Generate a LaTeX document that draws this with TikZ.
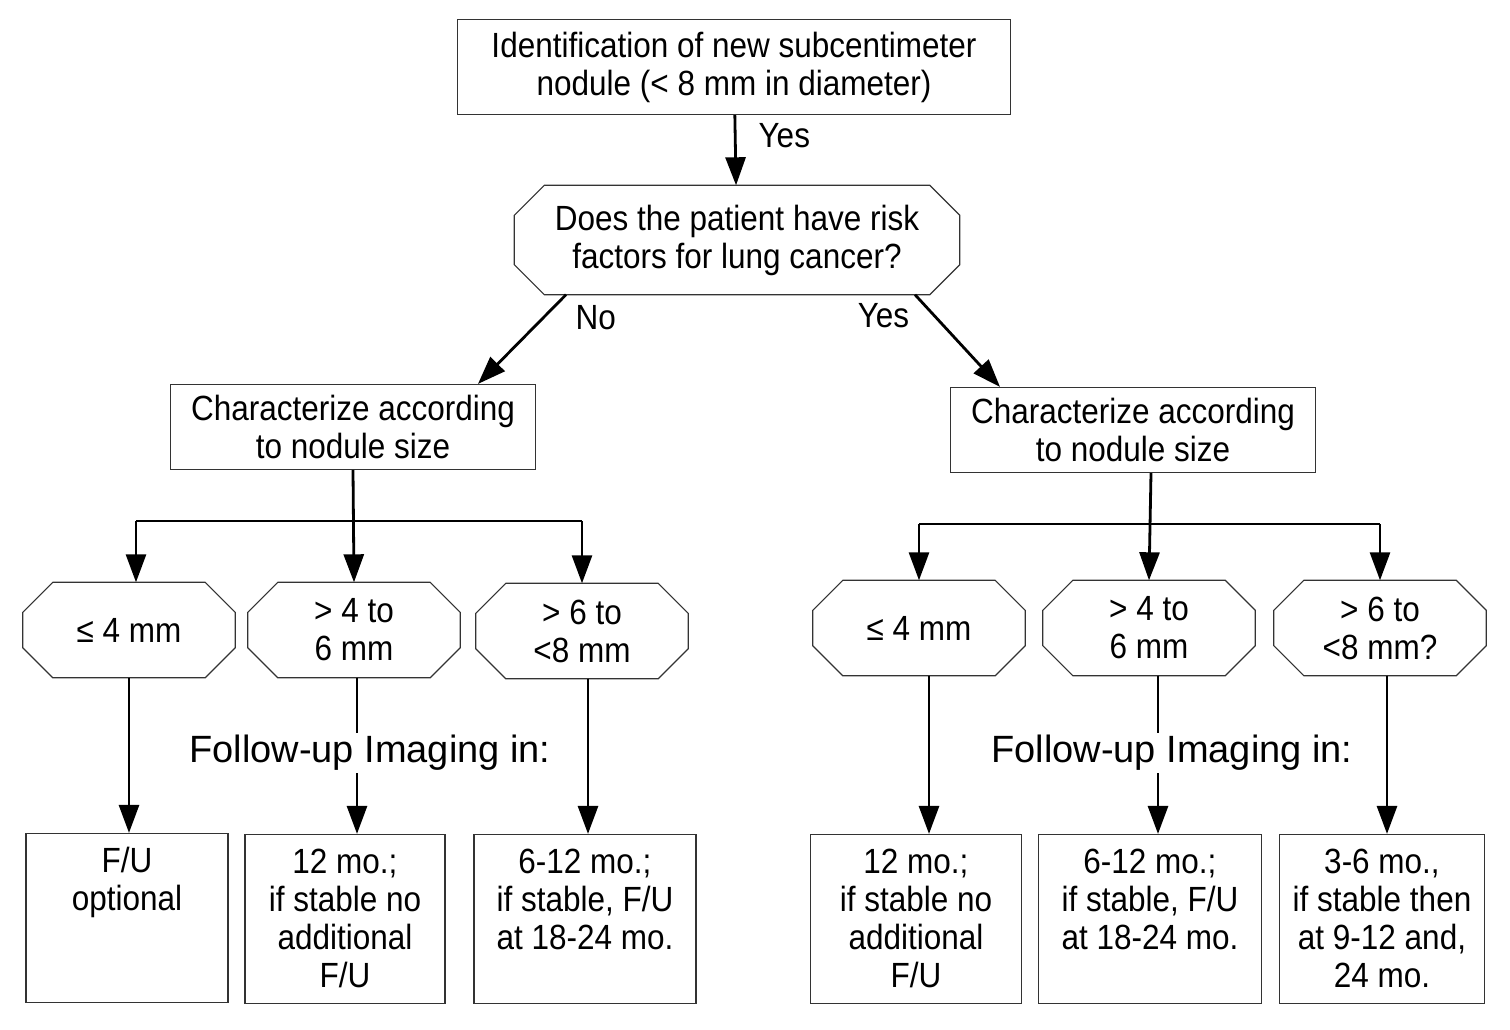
\documentclass[tikz,border=0pt]{standalone}
\usepackage{fontspec}
\setmainfont{Liberation Sans}
\newfontfamily\narrowfont[FakeStretch=0.9]{Liberation Sans}
\usetikzlibrary{arrows.meta, positioning}

\begin{document}
\begin{tikzpicture}[x=1pt,y=-1pt,>={Triangle[length=28pt,width=20pt]},
  border/.style={draw=black!80,line width=1.2pt},
  box/.style={rectangle,border,align=center,inner sep=6pt,
    font=\narrowfont\fontsize{35}{38}\selectfont},
  octa/.style={rectangle,align=center,inner sep=0pt,minimum width=212pt,minimum height=95pt,
    font=\narrowfont\fontsize{35}{38}\selectfont},
  fubox/.style={box,align=flush center,text width=#1,text height=33pt,text depth=124pt},
  link/.style={->,line width=2.8pt},
  bar/.style={line width=1.8pt},
  lbl/.style={inner sep=0pt,font=\narrowfont\fontsize{35}{38}\selectfont},
  note/.style={fill=white,inner sep=2pt,font=\fontsize{38}{40}\selectfont}]
  \useasboundingbox (0,0) rectangle (1510,1029);

  % question part
  \node[box,minimum width=553pt,minimum height=95pt] (start) at (734,67)
    {Identification of new subcentimeter\\nodule (< 8 mm in diameter)};
  \node[octa,minimum width=445pt,minimum height=109pt] (risk) at (737,240)
    {Does the patient have risk\\factors for lung cancer?};
  \node[box,minimum width=365pt,minimum height=85pt] (charL) at (353,427)
    {Characterize according\\to nodule size};
  \node[box,minimum width=365pt,minimum height=85pt] (charR) at (1133,430)
    {Characterize according\\to nodule size};

  % size classes
  \node[octa] (oL1) at (129,630) {≤ 4 mm};
  \node[octa] (oL2) at (354,630) {> 4 to\\6 mm};
  \node[octa] (oL3) at (582,631) {> 6 to\\<8 mm};
  \node[octa] (oR1) at (919,628) {≤ 4 mm};
  \node[octa] (oR2) at (1149,628) {> 4 to\\6 mm};
  \node[octa] (oR3) at (1380,628) {> 6 to\\<8 mm?};

  \foreach \o in {risk,oL1,oL2,oL3,oR1,oR2,oR3}
    \draw[border] ([xshift=30pt]\o.north west) -- ([xshift=-30pt]\o.north east)
      -- ([yshift=-30pt]\o.north east) -- ([yshift=30pt]\o.south east)
      -- ([xshift=-30pt]\o.south east) -- ([xshift=30pt]\o.south west)
      -- ([yshift=30pt]\o.south west) -- ([yshift=-30pt]\o.north west) -- cycle;

  % follow-up
  \node[fubox=190pt] (bL1) at (127,918) {F/U\\optional};
  \node[fubox=188pt] (bL2) at (345,919) {12 mo.;\\if stable no\\additional\\F/U};
  \node[fubox=210pt] (bL3) at (585,919) {6-12 mo.;\\if stable, F/U\\at 18-24 mo.};
  \node[fubox=199pt] (bR1) at (916,919) {12 mo.;\\if stable no\\additional\\F/U};
  \node[fubox=211pt] (bR2) at (1150,919) {6-12 mo.;\\if stable, F/U\\at 18-24 mo.};
  \node[fubox=193pt] (bR3) at (1382,919) {3-6 mo.,\\if stable then\\at 9-12 and,\\24 mo.};

  \coordinate (brL) at (0,521);
  \coordinate (brR) at (0,524);

  \draw[link] (start) -- node[lbl,pos=0.29,anchor=west,xshift=22pt] {Yes} (risk);
  \draw[link] ([xshift=-171pt]risk.south) -- node[lbl,pos=0.1,anchor=west,xshift=17pt,yshift=-14pt] {No} ([xshift=125pt]charL.north);
  \draw[link] ([xshift=178pt]risk.south) -- node[lbl,pos=0.1,xshift=-40pt,yshift=-12pt] {Yes} ([xshift=-133pt]charR.north);

  \draw[link] (charL.south) -- (oL2.north);
  \draw[bar] ([xshift=7pt]oL1.north |- brL) -- (oL3.north |- brL);
  \draw[link] ([xshift=7pt]oL1.north |- brL) -- ([xshift=7pt]oL1.north);
  \draw[link] (oL3.north |- brL) -- (oL3.north);

  \draw[link] ([xshift=18pt]charR.south) -- (oR2.north);
  \draw[bar] (oR1.north |- brR) -- (oR3.north |- brR);
  \draw[link] (oR1.north |- brR) -- (oR1.north);
  \draw[link] (oR3.north |- brR) -- (oR3.north);

  \foreach \o/\b/\dx in {oL1/bL1/0,oL2/bL2/3,oL3/bL3/6,oR1/bR1/10,oR2/bR2/9,oR3/bR3/7}
    \draw[link] ([xshift=\dx pt]\o.south) -- ([xshift=\dx pt]\o.south |- \b.north);

  \node[note] (fuL) at (370,753) {Follow-up Imaging in:};
  \node[note] (fuR) at (1172,753) {Follow-up Imaging in:};
\end{tikzpicture}
\end{document}
